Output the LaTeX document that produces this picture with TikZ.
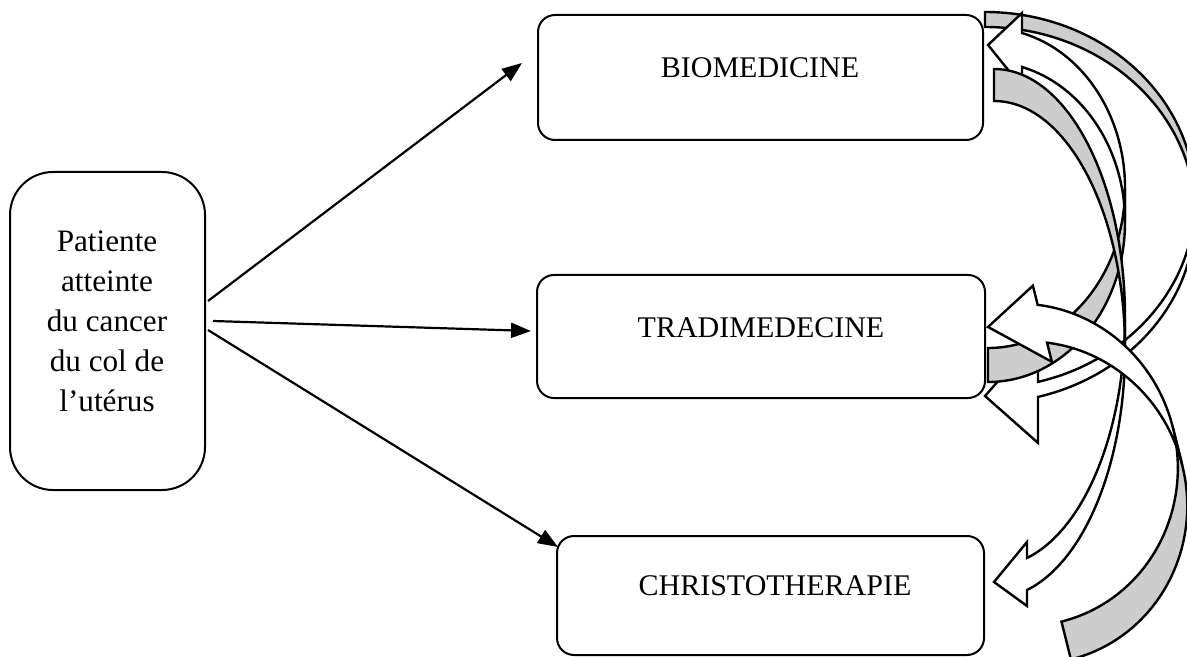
\documentclass[tikz,border=0pt]{standalone}
\usepackage{fontspec}
\setmainfont{Liberation Serif}
\usetikzlibrary{arrows.meta}
\definecolor{ribbonback}{RGB}{205,205,205}
\tikzset{
  box/.style={draw, line width=1pt, inner sep=0pt},
  txt/.style={font=\fontsize{15pt}{20pt}\selectfont, inner sep=0pt, align=center},
  conn/.style={line width=1.1pt, -{Triangle[length=10pt,width=7.5pt]}},
  backband/.style={fill=ribbonback, draw=black, line width=1.2pt},
  frontband/.style={fill=white, draw=black, line width=1.2pt},
}
% curved block arrow in a local frame: apex at (0,0), tail on top, head at the bottom-left
\newcommand{\ribbonarrow}[6]{%
  \pgfmathsetmacro\rbRx{#1}%
  \pgfmathsetmacro\rbRy{#2}%
  \pgfmathsetmacro\rbth{#3}%
  \pgfmathsetmacro\rbix{#4}%
  \pgfmathsetmacro\rbdh{#5}%
  \pgfmathsetmacro\rbtip{#6}%
  \pgfmathsetmacro\rbbeta{acos(\rbix/\rbRx)}%
  \pgfmathsetmacro\rbyA{\rbRy+\rbRy*sin(\rbbeta)}%
  \pgfmathsetmacro\rbyB{\rbyA+\rbth}%
  \filldraw[backband] (0,0) arc[start angle=-90, end angle=0, x radius=\rbRx, y radius=\rbRy]
     -- ++(0,\rbth) arc[start angle=0, end angle=-90, x radius=\rbRx, y radius=\rbRy] -- cycle;
  \filldraw[frontband] (\rbRx,\rbRy) arc[start angle=0, end angle=\rbbeta, x radius=\rbRx, y radius=\rbRy]
     -- (\rbix,\rbyA-\rbdh) -- (0,\rbtip) -- (\rbix,\rbyB+\rbdh) -- (\rbix,\rbyB)
     arc[start angle=\rbbeta, end angle=0, x radius=\rbRx, y radius=\rbRy] -- cycle;
}
\begin{document}
\begin{tikzpicture}[x=0.5pt, y=-0.5pt]
\useasboundingbox (0,0) rectangle (1187,657);

% boxes
\node[box, rounded corners=21.5pt, minimum width=97.5pt, minimum height=159pt] (pat) at (107.5,331) {};
\node[box, rounded corners=8.5pt, minimum width=222.5pt, minimum height=62.5pt] (bio) at (760.5,77.5) {};
\node[box, rounded corners=8.5pt, minimum width=224pt, minimum height=61.5pt] (trad) at (761,336.5) {};
\node[box, rounded corners=8.5pt, minimum width=213.5pt, minimum height=59.5pt] (chr) at (770.5,595.5) {};

% texts
\node[txt, font=\fontsize{15.6pt}{20pt}\selectfont] (pattxt) at (107,321) {Patiente\\atteinte\\du cancer\\du col de\\l’utérus};
\node[txt] (biotxt) at (760,67.5) {BIOMEDICINE};
\node[txt] (tradtxt) at (761,328) {TRADIMEDECINE};
\node[txt] (chrtxt) at (775,586) {CHRISTOTHERAPIE};

% straight connectors
\coordinate (o1) at (208,301);
\coordinate (o2) at (213,321);
\coordinate (o3) at (208,330);
\coordinate (e1) at (522,63);
\coordinate (e2) at (531,331);
\coordinate (e3) at (558,547);
\draw[conn] (o1) -- (e1);
\draw[conn] (o2) -- (e2);
\draw[conn] (o3) -- (e3);

% curved block arrows
\begin{scope}[shift={(985,12)}]
  \ribbonarrow{210}{188}{15}{53}{46}{384}
\end{scope}
\begin{scope}[shift={(988,382)}, yscale=-1]
  \ribbonarrow{137}{160}{34}{34}{20}{337}
\end{scope}
\begin{scope}[shift={(994,69)}]
  \ribbonarrow{131}{248.5}{32}{33}{16}{513}
\end{scope}
\begin{scope}[shift={(1070.9,659.4)}, rotate=14, yscale=-1]
  \ribbonarrow{155}{161.5}{39}{53.5}{19.7}{342.6}
\end{scope}
\end{tikzpicture}
\end{document}
